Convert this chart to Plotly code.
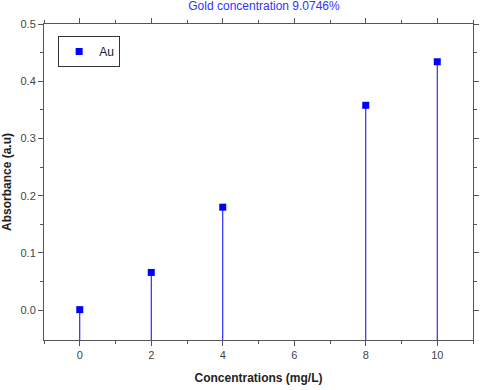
import plotly.graph_objects as go

# data
concentrations = [0, 2, 4, 8, 10]
absorbance = [0.001, 0.066, 0.180, 0.358, 0.434]

Y_MIN, Y_MAX = -0.052, 0.5
X_MIN, X_MAX = -1, 11
BLUE = "#0000ff"

# stems run from each point down to the bottom of the frame
stem_down = [v - Y_MIN for v in absorbance]

fig = go.Figure()
fig.add_trace(go.Scatter(
    x=concentrations,
    y=absorbance,
    mode="markers",
    name="Au",
    marker=dict(symbol="square", size=7, color=BLUE),
    error_y=dict(type="data", symmetric=False, array=[0] * len(absorbance),
                 arrayminus=stem_down, width=0, thickness=1, color=BLUE),
))

axis_common = dict(
    showgrid=False, zeroline=False, showline=True, linecolor="#555555",
    linewidth=1, mirror="ticks", ticks="outside", ticklen=5, automargin=False,
    tickcolor="#555555", tickfont=dict(family="Liberation Sans, Arial", size=11, color="#444444"),
)

fig.update_layout(
    width=480, height=390,
    margin=dict(l=44, r=7, t=24, b=50),
    paper_bgcolor="white",
    plot_bgcolor="white",
    font=dict(family="Liberation Sans, Arial", size=12, color="#222222"),
    title=dict(text="Gold concentration 9.0746%", x=0.55, xanchor="center",
               y=0.995, yanchor="top", automargin=False,
               font=dict(size=12, color="#3333ff")),
    xaxis=dict(axis_common, range=[X_MIN, X_MAX], tickvals=[0, 2, 4, 6, 8, 10],
               minor=dict(tickvals=[-1, 1, 3, 5, 7, 9, 11], ticklen=3, ticks="outside",
                          tickcolor="#555555"),
               title=dict(text="<b>Concentrations (mg/L)</b>", standoff=13,
                          font=dict(size=12))),
    yaxis=dict(axis_common, range=[Y_MIN, Y_MAX], tickvals=[0.0, 0.1, 0.2, 0.3, 0.4, 0.5],
               tickformat=".1f",
               minor=dict(tickvals=[0.05, 0.15, 0.25, 0.35, 0.45], ticklen=3,
                          ticks="outside", tickcolor="#555555"),
               title=dict(text="<b>Absorbance (a.u)</b>", standoff=6,
                          font=dict(size=12))),
    legend=dict(x=0.033, y=0.962, xanchor="left", yanchor="top",
                bordercolor="#333333", borderwidth=1, bgcolor="white",
                font=dict(size=12), itemwidth=30),
    showlegend=True,
)

# drop the default page margin so the figure sits at the window's corner
fig.write_html("out.html", config={"displayModeBar": False},
               post_script="document.body.style.margin='0';")
